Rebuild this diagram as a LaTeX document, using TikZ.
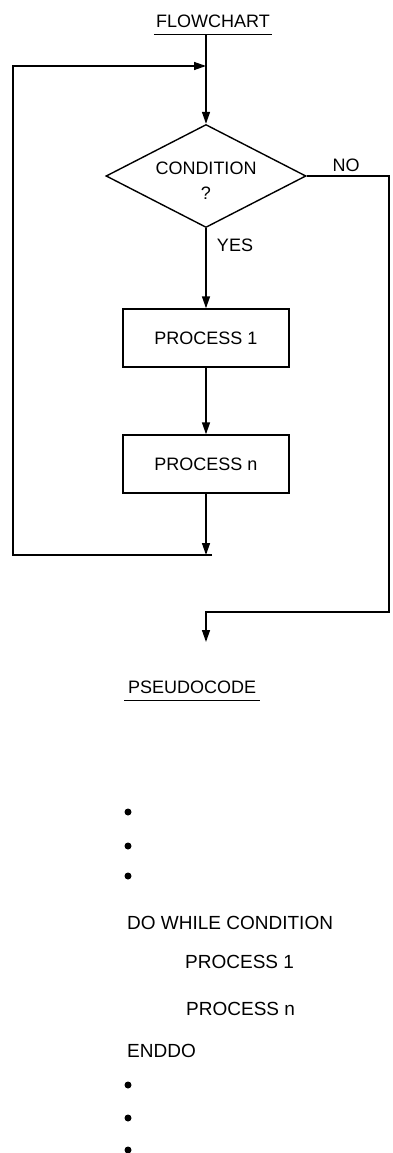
\documentclass[tikz,border=0pt]{standalone}
\usepackage{fontspec}
\setmainfont{Liberation Sans}
\usetikzlibrary{shapes.geometric,arrows.meta}

\tikzset{
  flowline/.style={line width=1.4pt},
  arrowline/.style={flowline,-{Triangle[length=12pt,width=8pt]}},
  procbox/.style={draw,line width=1.4pt,minimum width=166pt,minimum height=58pt,inner sep=0pt},
  decision/.style={diamond,draw,line width=1.4pt,aspect=2,minimum width=200pt,minimum height=103pt,inner sep=0pt,align=center},
  codeline/.style={anchor=base west,inner sep=0pt,font=\fontsize{19}{22}\selectfont},
  bulletdot/.style={circle,fill,inner sep=0pt,minimum size=7pt}
}

\begin{document}
\begin{tikzpicture}[x=1pt,y=-1pt,font=\fontsize{18}{25}\selectfont]
\useasboundingbox (0,0) rectangle (392,1153);

\node[anchor=base,inner xsep=2pt,inner ysep=6pt] (fctitle) at (213,28) {FLOWCHART};
\draw[flowline] (fctitle.south west) -- (fctitle.south east);

\node[decision] (cond) at (206,176) {\rule{0pt}{21pt}CONDITION\\?};
\node[procbox] (p1) at (206,338) {PROCESS 1};
\node[procbox] (pn) at (206,464) {PROCESS n};
\node (yes) at (235,245) {YES};
\node (no) at (346,165) {NO};

\coordinate (looptop) at (206,66);
\coordinate (loopbot) at (206,555);
\coordinate (loopleft) at (13,555);
\coordinate (noright) at (389,612);
\coordinate (noend) at (206,642);

\draw[arrowline] (fctitle.south -| cond.north) -- (cond.north);
\draw[arrowline] (cond.south) -- (p1.north);
\draw[arrowline] (p1.south) -- (pn.north);
\draw[arrowline] (pn.south) -- (loopbot);
\draw[arrowline] ([xshift=6pt]loopbot) -- (loopleft) |- (looptop);
\draw[arrowline] (cond.east) -| (noright) -| (noend);

\node[anchor=base west,inner xsep=4pt,inner ysep=7pt] (pctitle) at (124,693) {PSEUDOCODE};
\draw[flowline] (pctitle.south west) -- (pctitle.south east);

\foreach \y [count=\i] in {812,846,876}
  \node[bulletdot] (pre\i) at (128,\y) {};

\node[codeline] (dowhile) at (127,929) {DO WHILE CONDITION};
\node[codeline] (cp1) at (185,968) {PROCESS 1};
\node[codeline] (cpn) at (186,1015) {PROCESS n};
\node[codeline] (enddo) at (127,1057) {ENDDO};

\foreach \y [count=\i] in {1085,1118,1150}
  \node[bulletdot] (post\i) at (128,\y) {};
\end{tikzpicture}
\end{document}
